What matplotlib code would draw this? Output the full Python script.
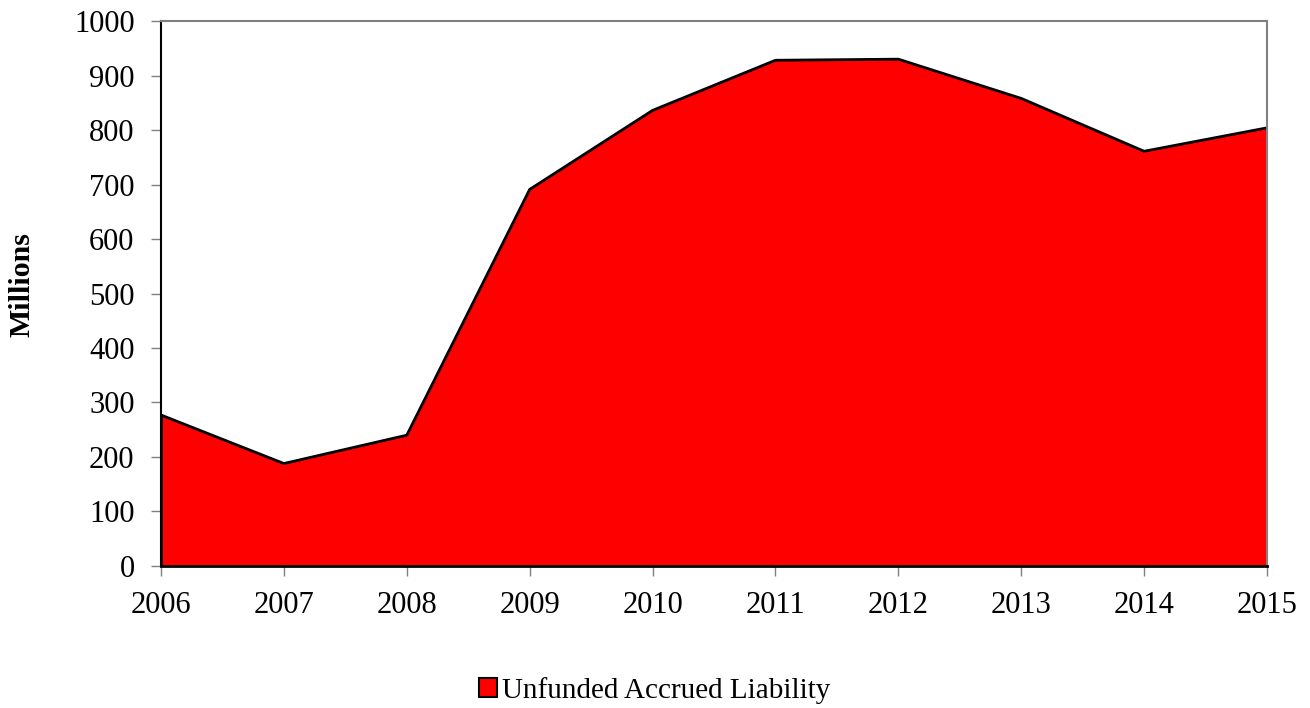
import matplotlib
matplotlib.use("Agg")
import matplotlib.pyplot as plt
from matplotlib.patches import Patch

years = [2006, 2007, 2008, 2009, 2010, 2011, 2012, 2013, 2014, 2015]
liability = [277, 188, 240, 691, 836, 928, 930, 858, 761, 804]
yticks = [0, 100, 200, 300, 400, 500, 600, 700, 800, 900, 1000]

plt.rcParams['font.family'] = ['Liberation Serif', 'DejaVu Serif']

fig = plt.figure(figsize=(13.1, 7.08), dpi=100)
ax = fig.add_axes([0.1229, 0.2006, 0.8443, 0.7697])

# area plus its outline
ax.fill_between(years, liability, 0, facecolor='#ff0000', edgecolor='none')
ax.plot(years, liability, color='black', lw=2)
ax.plot([years[-1], years[-1]], [0, liability[-1]], color='black', lw=2)
ax.plot([years[0], years[0]], [0, liability[0]], color='black', lw=2)

ax.set_xlim(years[0], years[-1])
ax.set_ylim(0, 1000)
ax.set_xticks(years)
ax.set_yticks(yticks)
ax.tick_params(axis='both', labelsize=22, direction='out', length=7, color='#808080', width=1)
ax.tick_params(axis='x', pad=11)
ax.tick_params(axis='y', pad=12)

for side in ['top', 'right']:
    ax.spines[side].set_color('#808080')
    ax.spines[side].set_linewidth(1.5)
ax.spines['left'].set_color('black')
ax.spines['left'].set_linewidth(1.5)
ax.spines['bottom'].set_color('black')
ax.spines['bottom'].set_linewidth(2)

fig.text(22 / 1310, 1 - 285 / 708, 'Millions', rotation=90, fontsize=21.5, fontweight='bold',
         ha='center', va='center')

handle = Patch(facecolor='#ff0000', edgecolor='black', linewidth=1.5)
fig.legend([handle], ['Unfunded Accrued Liability'], loc='center', bbox_to_anchor=(0.5, 0.025),
           frameon=False, fontsize=21, handlelength=0.6, handleheight=0.6, handletextpad=0.2,
           borderpad=0, borderaxespad=0)

fig.savefig('out.png', dpi=100)
